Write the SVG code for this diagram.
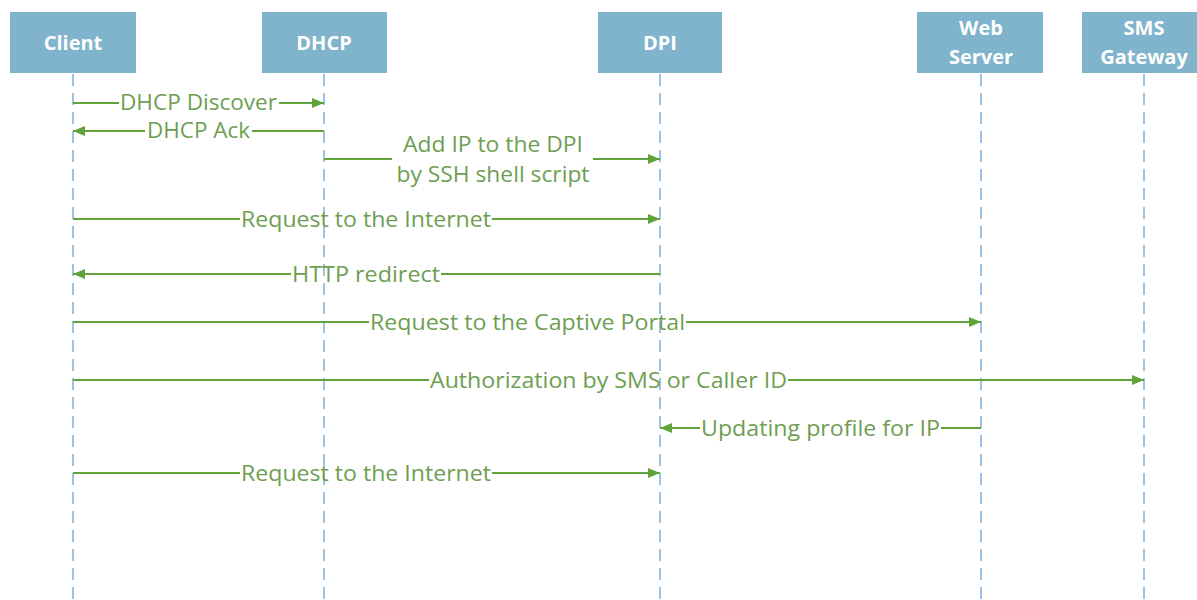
<svg xmlns="http://www.w3.org/2000/svg" width="1197" height="600" viewBox="0 0 1197 600">
<style>
.box{fill:#80b3cc}
.bt{font-family:"Open Sans","Liberation Sans",sans-serif;font-weight:bold;font-size:20px;fill:#ffffff;text-anchor:middle}
.life{stroke:#9cc2e5;stroke-width:2;stroke-dasharray:12 7;fill:none}
.msg{stroke:#5fa33a;stroke-width:2;fill:none}
.ml{font-family:"Open Sans","Liberation Sans",sans-serif;font-size:21px;fill:#6e9e52;text-anchor:middle}
</style>
<defs>
<marker id="ah" markerUnits="userSpaceOnUse" markerWidth="12" markerHeight="12" viewBox="0 0 12 12" refX="12" refY="6" orient="auto">
<path d="M0,1 L12,6 L0,11 Z" fill="#5fa33a"/>
</marker>
</defs>
<rect width="1197" height="600" fill="#ffffff"/>
<g id="lifelines">
<line class="life" x1="73" y1="74" x2="73" y2="600"/>
<line class="life" x1="324" y1="74" x2="324" y2="600"/>
<line class="life" x1="660" y1="74" x2="660" y2="600"/>
<line class="life" x1="981" y1="74" x2="981" y2="600"/>
<line class="life" x1="1144" y1="74" x2="1144" y2="600"/>
</g>
<g id="client"><rect class="box" x="10" y="12" width="126" height="61"/><text class="bt" x="73" y="50">Client</text></g>
<g id="dhcp"><rect class="box" x="262" y="12" width="125" height="61"/><text class="bt" x="324" y="50">DHCP</text></g>
<g id="dpi"><rect class="box" x="598" y="12" width="124" height="61"/><text class="bt" x="660" y="50">DPI</text></g>
<g id="webserver"><rect class="box" x="917" y="12" width="126" height="61"/><text class="bt" x="981" y="35">Web</text><text class="bt" x="981" y="64">Server</text></g>
<g id="smsgateway"><rect class="box" x="1082" y="12" width="124" height="61"/><text class="bt" x="1144" y="35">SMS</text><text class="bt" x="1144" y="64">Gateway</text></g>
<g id="connectors">
<!-- 1 DHCP Discover -->
<line class="msg" x1="73" y1="103" x2="119" y2="103"/>
<line class="msg" x1="279" y1="103" x2="324" y2="103" marker-end="url(#ah)"/>
<text class="ml" x="198.5" y="110" textLength="157" lengthAdjust="spacingAndGlyphs">DHCP Discover</text>
<!-- 2 DHCP Ack -->
<line class="msg" x1="324" y1="131" x2="252" y2="131"/>
<line class="msg" x1="145" y1="131" x2="73" y2="131" marker-end="url(#ah)"/>
<text class="ml" x="198.5" y="138" textLength="103" lengthAdjust="spacingAndGlyphs">DHCP Ack</text>
<!-- 3 Add IP -->
<line class="msg" x1="324" y1="159" x2="392" y2="159"/>
<line class="msg" x1="593" y1="159" x2="660" y2="159" marker-end="url(#ah)"/>
<text class="ml" x="493" y="152" textLength="180" lengthAdjust="spacingAndGlyphs">Add IP to the DPI</text>
<text class="ml" x="493" y="182" textLength="193" lengthAdjust="spacingAndGlyphs">by SSH shell script</text>
<!-- 4 Request to the Internet -->
<line class="msg" x1="73" y1="219" x2="240" y2="219"/>
<line class="msg" x1="492" y1="219" x2="660" y2="219" marker-end="url(#ah)"/>
<text class="ml" x="366" y="227" textLength="250" lengthAdjust="spacingAndGlyphs">Request to the Internet</text>
<!-- 5 HTTP redirect -->
<line class="msg" x1="660" y1="274" x2="441" y2="274"/>
<line class="msg" x1="291" y1="274" x2="73" y2="274" marker-end="url(#ah)"/>
<text class="ml" x="366" y="282" textLength="148" lengthAdjust="spacingAndGlyphs">HTTP redirect</text>
<!-- 6 Captive Portal -->
<line class="msg" x1="73" y1="322" x2="369" y2="322"/>
<line class="msg" x1="686" y1="322" x2="981" y2="322" marker-end="url(#ah)"/>
<text class="ml" x="527.5" y="330" textLength="315" lengthAdjust="spacingAndGlyphs">Request to the Captive Portal</text>
<!-- 7 Authorization -->
<line class="msg" x1="73" y1="380" x2="429" y2="380"/>
<line class="msg" x1="788" y1="380" x2="1144" y2="380" marker-end="url(#ah)"/>
<text class="ml" x="608.5" y="388" textLength="357" lengthAdjust="spacingAndGlyphs">Authorization by SMS or Caller ID</text>
<!-- 8 Updating profile -->
<line class="msg" x1="981" y1="428" x2="941" y2="428"/>
<line class="msg" x1="700" y1="428" x2="660" y2="428" marker-end="url(#ah)"/>
<text class="ml" x="820.5" y="436" textLength="239" lengthAdjust="spacingAndGlyphs">Updating profile for IP</text>
<!-- 9 Request to the Internet -->
<line class="msg" x1="73" y1="473" x2="240" y2="473"/>
<line class="msg" x1="492" y1="473" x2="660" y2="473" marker-end="url(#ah)"/>
<text class="ml" x="366" y="481" textLength="250" lengthAdjust="spacingAndGlyphs">Request to the Internet</text>
</g>
</svg>
